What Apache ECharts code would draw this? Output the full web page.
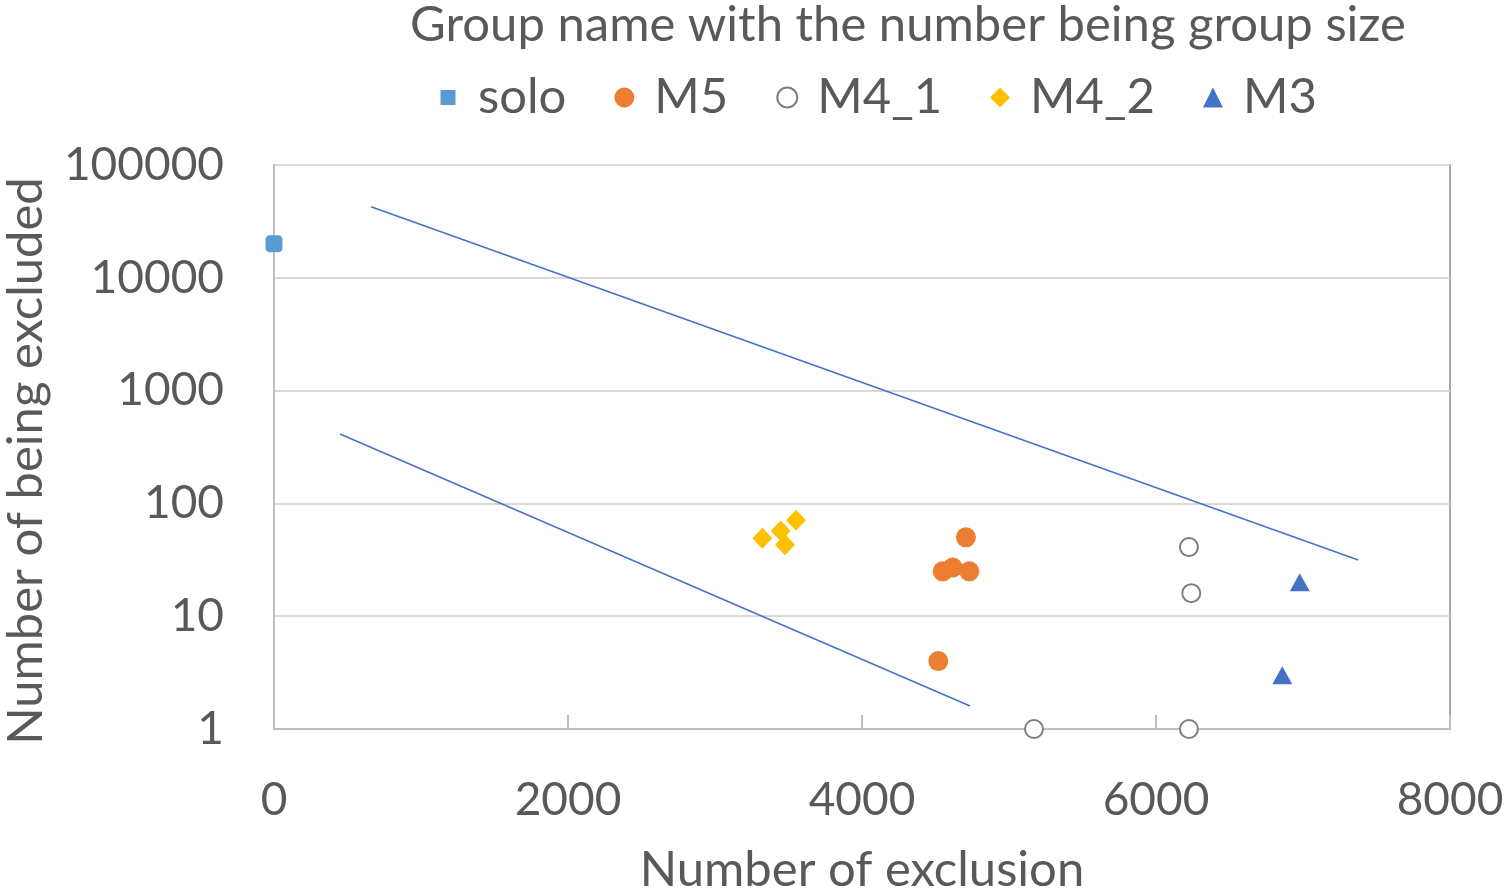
<!DOCTYPE html>
<html>
<head>
<meta charset="utf-8">
<script src="https://cdn.jsdelivr.net/npm/echarts@6/dist/echarts.min.js"></script>
<style>
  html, body { margin: 0; padding: 0; background: #fff; }
  #chart { width: 1506px; height: 893px; }
</style>
</head>
<body>
<div id="chart"></div>
<script>
// Exclusion counts (x) vs. times being excluded (y) per group
const soloX = [0];
const soloY = [20000];
const m5X = [4519, 4549, 4617, 4707, 4730];
const m5Y = [4, 25, 27, 50, 25];
const m41X = [5170, 6224, 6224, 6240];
const m41Y = [1, 1, 41, 16];
const m42X = [3322, 3447, 3476, 3551];
const m42Y = [49, 57, 43, 71];
const m3X = [6859, 6978];
const m3Y = [3, 20];
// Guide lines drawn across the plot
const upperLineX = [660, 7376];
const upperLineY = [42700, 31.5];
const lowerLineX = [449, 4735];
const lowerLineY = [412, 1.6];

const xTicks = [0, 2000, 4000, 6000, 8000];
const yTicks = [1, 10, 100, 1000, 10000, 100000];

const pair = (xs, ys) => xs.map((x, i) => [x, ys[i]]);

const FONT = 'Lato';
const GREY = '#595959';
const TEXT_SIZE = 49;
const NUM_SIZE = 46;

// Smaller square centred in a 20x20 box for the "solo" legend icon
const SMALL_SQUARE = 'path://M0,0 M20,20 M2.5,2.5 L17.5,2.5 L17.5,17.5 L2.5,17.5 Z';

const chart = echarts.init(document.getElementById('chart'), null, { renderer: 'canvas' });
chart.setOption({
  animation: false,
  backgroundColor: '#ffffff',
  title: {
    text: 'Group name with the number being group size',
    left: 903,
    textAlign: 'center',
    top: -4,
    textStyle: { fontFamily: FONT, fontSize: TEXT_SIZE, fontWeight: 'normal', color: GREY }
  },
  legend: {
    data: [
      { name: 'solo', icon: SMALL_SQUARE },
      { name: 'M5', icon: 'circle' },
      { name: 'M4_1', icon: 'emptyCircle' },
      { name: 'M4_2', icon: 'diamond' },
      { name: 'M3', icon: 'triangle' }
    ],
    left: 433,
    top: 68,
    itemWidth: 20,
    itemHeight: 20,
    itemGap: 48,
    textStyle: { fontFamily: FONT, fontSize: TEXT_SIZE, color: GREY, padding: [0, 0, 0, 15] }
  },
  grid: {
    left: 274, right: 56, top: 165, bottom: 164,
    outerBoundsMode: 'none',
    containLabel: false,
    show: true, borderColor: '#A6A6A6', borderWidth: 2, backgroundColor: 'transparent'
  },
  xAxis: {
    type: 'value',
    min: xTicks[0], max: xTicks[xTicks.length - 1], interval: 2000,
    name: 'Number of exclusion',
    nameLocation: 'middle',
    nameGap: 117,
    nameTextStyle: { fontFamily: FONT, fontSize: TEXT_SIZE, color: GREY },
    axisLine: { show: true, onZero: false, lineStyle: { color: '#BFBFBF', width: 2 } },
    axisTick: { show: true, inside: true, length: 14, lineStyle: { color: '#BFBFBF', width: 2 } },
    axisLabel: { fontFamily: FONT, fontSize: NUM_SIZE, color: GREY, margin: 48, formatter: v => String(v) },
    splitLine: { show: false }
  },
  yAxis: {
    type: 'log',
    logBase: 10,
    min: yTicks[0], max: yTicks[yTicks.length - 1],
    name: 'Number of being excluded',
    nameLocation: 'middle',
    nameGap: 223,
    nameTextStyle: { fontFamily: FONT, fontSize: TEXT_SIZE, color: GREY, padding: [0, 28, 0, 0] },
    axisLine: { show: true, lineStyle: { color: '#BFBFBF', width: 2 } },
    axisTick: { show: false },
    axisLabel: { fontFamily: FONT, fontSize: NUM_SIZE, color: GREY, margin: 50, formatter: v => String(Math.round(v)) },
    splitLine: { show: true, lineStyle: { color: '#D9D9D9', width: 2 } }
  },
  series: [
    {
      name: 'upper', type: 'line', data: pair(upperLineX, upperLineY),
      symbol: 'none', lineStyle: { color: '#4472C4', width: 1.5 }, z: 1, silent: true
    },
    {
      name: 'lower', type: 'line', data: pair(lowerLineX, lowerLineY),
      symbol: 'none', lineStyle: { color: '#4472C4', width: 1.5 }, z: 1, silent: true
    },
    {
      name: 'solo', type: 'scatter', data: pair(soloX, soloY), clip: false,
      symbol: 'roundRect', symbolSize: 17, itemStyle: { color: '#5B9BD5', opacity: 1 }, z: 3
    },
    {
      name: 'M5', type: 'scatter', data: pair(m5X, m5Y),
      symbol: 'circle', symbolSize: 20, itemStyle: { color: '#ED7D31', opacity: 1 }, z: 3
    },
    {
      name: 'M4_1', type: 'scatter', data: pair(m41X, m41Y), clip: false,
      symbol: 'emptyCircle', symbolSize: 18,
      itemStyle: { color: '#7F7F7F', borderColor: '#7F7F7F', borderWidth: 2, opacity: 1 }, z: 3
    },
    {
      name: 'M4_2', type: 'scatter', data: pair(m42X, m42Y),
      symbol: 'diamond', symbolSize: [20, 21], itemStyle: { color: '#FFC000', opacity: 1 }, z: 3
    },
    {
      name: 'M3', type: 'scatter', data: pair(m3X, m3Y),
      symbol: 'triangle', symbolSize: [20, 18], itemStyle: { color: '#4472C4', opacity: 1 }, z: 3
    }
  ]
});
</script>
</body>
</html>
